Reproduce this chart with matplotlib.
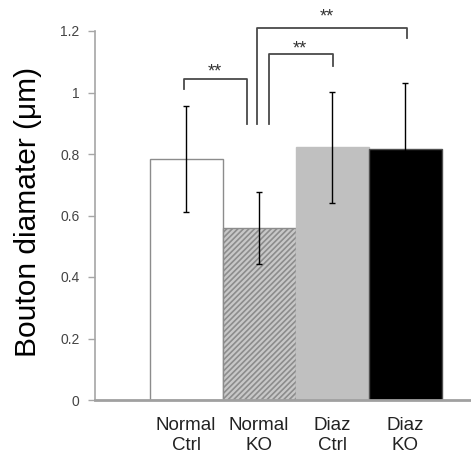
import matplotlib.pyplot as plt

plt.rcParams['font.family'] = ['Liberation Sans', 'DejaVu Sans']
plt.rcParams['hatch.color'] = '#6a6a6a'
plt.rcParams['hatch.linewidth'] = 1.2

groups = ['Normal\nCtrl', 'Normal\nKO', 'Diaz\nCtrl', 'Diaz\nKO']
means = [0.784, 0.560, 0.822, 0.815]
errors = [0.172, 0.118, 0.180, 0.215]
yticks = [0, 0.2, 0.4, 0.6, 0.8, 1, 1.2]
yticklabels = ['0', '0.2', '0.4', '0.6', '0.8', '1', '1.2']


def main():
    fig = plt.figure(figsize=(4.71, 4.58), dpi=100)
    ax = fig.add_axes([95 / 471, 58 / 458, 375 / 471, 369 / 458])

    x = list(range(len(groups)))
    faces = ['white', '#c8c8c8', '#c0c0c0', 'black']
    hatches = [None, '//////', None, None]
    edges = ['#8c8c8c', '#8c8c8c', '#c0c0c0', '#505050']
    for i in x:
        ax.bar(x[i], means[i], width=1.0, color=faces[i], edgecolor=edges[i],
               hatch=hatches[i], linewidth=1.0, zorder=2)
    ax.errorbar(x, means, yerr=errors, fmt='none', ecolor='black',
                elinewidth=1.0, capsize=2.5, capthick=1.0, zorder=3)

    # significance brackets
    c = '#4a4a4a'
    brackets = [(-0.03, 0.836, 1.011, 0.898, 1.043, 0.40, 1.068),
                (1.137, 2.014, 0.898, 1.087, 1.125, 1.56, 1.142),
                (0.973, 3.027, 0.898, 1.176, 1.211, 1.93, 1.244)]
    for x1, x2, y1, y2, top, sx, sy in brackets:
        ax.plot([x1, x1, x2, x2], [y1, top, top, y2], color=c, lw=1.3,
                clip_on=False, zorder=4)
        ax.text(sx, sy, '**', ha='center', va='center', fontsize=13,
                color='#333333', clip_on=False)

    ax.set_xlim(-1.247, 3.89)
    ax.set_ylim(0, 1.2)
    ax.set_xticks(x)
    ax.set_xticklabels(groups, fontsize=13.5, color='#222222', linespacing=1.25)
    ax.tick_params(axis='x', length=0, pad=12)
    ax.set_yticks(yticks)
    ax.set_yticklabels(yticklabels, fontsize=10, color='#444444')
    ax.tick_params(axis='y', length=5, width=1, color='#a6a6a6', pad=6)

    for s in ['top', 'right']:
        ax.spines[s].set_visible(False)
    ax.spines['left'].set_color('#a6a6a6')
    ax.spines['left'].set_linewidth(1.2)
    ax.spines['bottom'].set_color('#a0a0a0')
    ax.spines['bottom'].set_linewidth(2)

    ax.set_ylabel('Bouton diamater (\u03bcm)', fontsize=21.5)
    ax.yaxis.set_label_coords(-0.14, 0.51)

    fig.savefig('out.png', dpi=100)


if __name__ == "__main__":
    main()
